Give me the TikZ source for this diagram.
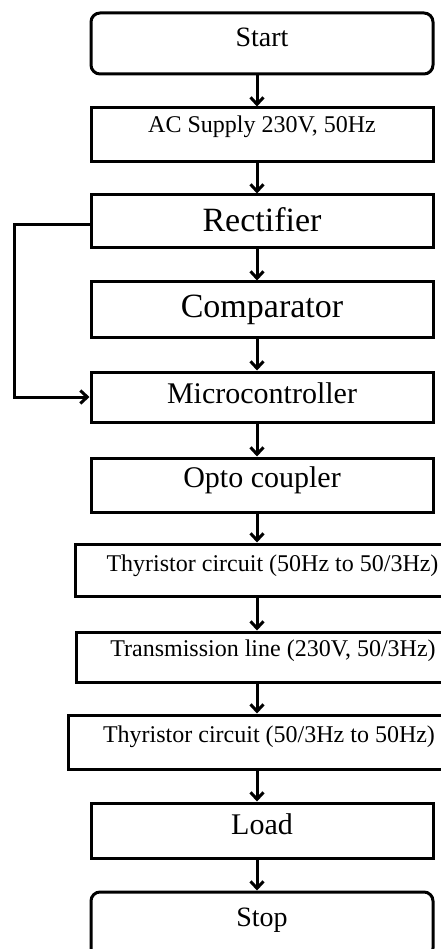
\documentclass[tikz,border=0pt]{standalone}
\usepackage{fontspec}
\setmainfont{Liberation Serif}
\usetikzlibrary{arrows.meta}

\newcommand\boxfont[1]{\fontsize{#1}{#1}\selectfont}

\begin{document}
\begin{tikzpicture}[
    x=1pt,
    y=-1pt,
    >={Straight Barb[length=7pt, width=13pt]},
    box/.style={draw, line width=3pt, minimum width=342pt, inner sep=0pt, align=center},
    term/.style={box, rounded corners=9pt},
    flow/.style={->, line width=3pt}
]
    \useasboundingbox (0,0) rectangle (441,949);
    % process column
    \node[term, minimum height=61pt, text height=18.5pt, text depth=12pt, font={\boxfont{28}}] (start) at (262,43.5) {Start};
    \node[box, minimum height=54pt, text height=15.8pt, text depth=20pt, font={\boxfont{24}}] (ac) at (262,135) {AC Supply 230V, 50Hz};
    \node[box, minimum height=53pt, text height=22.4pt, text depth=3pt, font={\boxfont{34}}] (rect) at (262,221.5) {Rectifier};
    \node[box, minimum height=55pt, text height=22.4pt, text depth=7pt, font={\boxfont{34}}] (comp) at (262,309.5) {Comparator};
    \node[box, minimum height=50pt, text height=19.8pt, text depth=6pt, font={\boxfont{30}}] (micro) at (262,397) {Microcontroller};
    \node[box, minimum height=54pt, text height=19.8pt, text depth=15pt, font={\boxfont{30}}] (opto) at (262,485) {Opto coupler};
    \node[box, minimum width=395pt, minimum height=52pt, text height=15.8pt, text depth=13pt, font={\boxfont{24}}] (thya) at (272.5,570) {Thyristor circuit (50Hz to 50/3Hz)};
    \node[box, minimum width=394pt, minimum height=50pt, text height=15.8pt, text depth=17pt, font={\boxfont{24}}] (line) at (273,657) {Transmission line (230V, 50/3Hz)};
    \node[box, minimum width=402pt, minimum height=54pt, text height=15.8pt, text depth=14pt, font={\boxfont{24}}] (thyb) at (269,742) {Thyristor circuit (50/3Hz to 50Hz)};
    \node[box, minimum height=55pt, text height=19.8pt, text depth=11pt, font={\boxfont{30}}] (load) at (262,830.5) {Load};
    \node[term, minimum height=65pt, text height=18.5pt, text depth=15pt, font={\boxfont{28}}] (stop) at (262,924.5) {Stop};
    % connectors
    \coordinate (spine) at (257,0);
    \coordinate (loop) at (14,0);
    \foreach \a/\b in {start/ac, ac/rect, rect/comp, comp/micro, micro/opto,
                       opto/thya, thya/line, line/thyb, thyb/load, load/stop}
        \draw[flow] (\a.south -| spine) -- (\b.north -| spine);
    \draw[flow] ([yshift=-3.5pt]rect.west) -| (loop |- micro.west) -- (micro.west);
\end{tikzpicture}
\end{document}
